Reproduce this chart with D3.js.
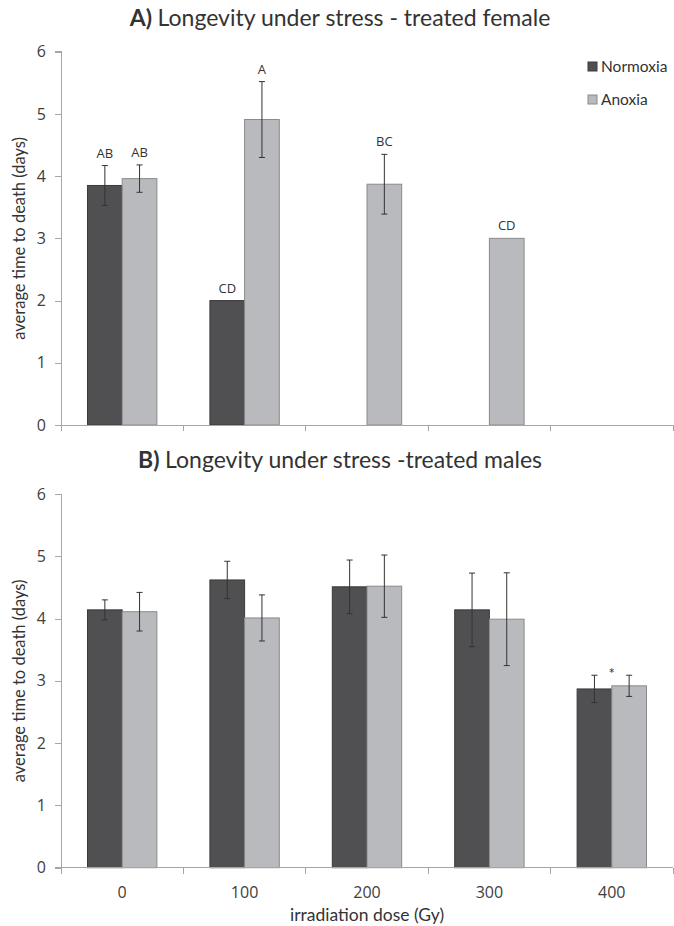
<!DOCTYPE html>
<meta charset="utf-8">
<head>
  <title>Longevity under stress</title>
</head>

<style>
body {
  margin: 0;
  background: #fff;
  font-family: Lato, "Open Sans", sans-serif;
  color: #333;
}
.axis path, .axis line { stroke: #a6a6a6; shape-rendering: crispEdges; }
.axis text { fill: #404040; font-size: 16px; font-family: "Open Sans", sans-serif; }
.err { stroke: #333; stroke-width: 1; }
</style>

<body>
  <div id="content">
    <svg width="674" height="926"></svg>
  </div>

  <script src="https://cdnjs.cloudflare.com/ajax/libs/d3/7.8.5/d3.min.js"></script>

  <script>
  // data
  var doses = ["0", "100", "200", "300", "400"];
  var series = ["Normoxia", "Anoxia"];
  var colors = { Normoxia: "#505052", Anoxia: "#b9babd" };
  var strokes = { Normoxia: "#3a3a3a", Anoxia: "#8a8a8a" };
  var yTicks = [0, 1, 2, 3, 4, 5, 6];

  // A) treated females
  var femaleNormoxia    = [3.85, 2.00, null, null, null];
  var femaleNormoxiaErr = [0.32, 0,    null, null, null];
  var femaleAnoxia      = [3.96, 4.91, 3.87, 3.00, null];
  var femaleAnoxiaErr   = [0.22, 0.61, 0.48, 0,    null];
  var femaleNormoxiaLetters = ["AB", "CD", "", "", ""];
  var femaleAnoxiaLetters   = ["AB", "A", "BC", "CD", ""];

  // B) treated males
  var maleNormoxia    = [4.14, 4.62, 4.51, 4.14, 2.87];
  var maleNormoxiaErr = [0.16, 0.30, 0.43, 0.59, 0.22];
  var maleAnoxia      = [4.11, 4.01, 4.52, 3.99, 2.92];
  var maleAnoxiaErr   = [0.31, 0.37, 0.50, 0.745, 0.17];
  var maleStars = ["", "", "", "", "*"];

  var svg = d3.select("svg");
  var left = 61, right = 673;

  var x0 = d3.scaleBand().domain(doses).range([left, right]).padding(0);
  var x1 = d3.scaleBand().domain(series).range([0, x0.bandwidth()])
    .paddingInner(0).paddingOuter(0.764);

  function panel(top, bottom, title, letter, sets, showXLabels) {
    var y = d3.scaleLinear().domain([0, 6]).range([bottom, top]);
    var g = svg.append("g");

    // title
    var t = g.append("text")
      .attr("x", 340).attr("y", top - 26)
      .attr("text-anchor", "middle")
      .style("font-size", "23px").style("fill", "#333");
    t.append("tspan").style("font-weight", "bold").text(letter + " ");
    t.append("tspan").text(title);

    // bars
    sets.forEach(function(s) {
      doses.forEach(function(d, i) {
        var v = s.values[i];
        if (v == null) return;
        var bx = x0(d) + x1(s.name);
        g.append("rect")
          .attr("x", bx).attr("y", y(v))
          .attr("width", x1.bandwidth()).attr("height", y(0) - y(v))
          .attr("fill", colors[s.name])
          .attr("stroke", strokes[s.name]).attr("stroke-width", 1);
      });
    });

    // error bars and labels
    sets.forEach(function(s) {
      doses.forEach(function(d, i) {
        var v = s.values[i];
        if (v == null) return;
        var e = s.err[i] || 0;
        var cx = x0(d) + x1(s.name) + x1.bandwidth() / 2;
        if (e > 0) {
          g.append("line").attr("class", "err")
            .attr("x1", cx).attr("x2", cx).attr("y1", y(v + e)).attr("y2", y(v - e));
          [v + e, v - e].forEach(function(w) {
            g.append("line").attr("class", "err")
              .attr("x1", cx - 3).attr("x2", cx + 3).attr("y1", y(w)).attr("y2", y(w));
          });
        }
        if (s.letters && s.letters[i]) {
          g.append("text")
            .attr("x", cx).attr("y", y(v + e) - 8)
            .attr("text-anchor", "middle")
            .style("font-size", "13px").style("fill", "#333")
            .style("font-family", "'Open Sans', sans-serif")
            .text(s.letters[i]);
        }
      });
    });

    // y axis
    var ya = g.append("g").attr("class", "axis")
      .attr("transform", "translate(" + left + ",0)")
      .call(d3.axisLeft(y).tickValues(yTicks).tickSize(6).tickPadding(9).tickFormat(d3.format("d")));
    ya.select(".domain").attr("d", "M-6," + y(6) + "H0V" + y(0) + "H-6");

    // x axis: ticks at category boundaries
    var xa = g.append("g").attr("class", "axis");
    xa.append("line").attr("x1", left).attr("x2", right).attr("y1", y(0)).attr("y2", y(0));
    doses.concat(["end"]).forEach(function(d, i) {
      var bx = i < doses.length ? x0(d) : right;
      xa.append("line").attr("x1", bx).attr("x2", bx).attr("y1", y(0)).attr("y2", y(0) + 6);
    });
    if (showXLabels) {
      doses.forEach(function(d) {
        xa.append("text")
          .attr("x", x0(d) + x0.bandwidth() / 2).attr("y", y(0) + 30)
          .attr("text-anchor", "middle").text(d);
      });
    }

    // y axis title
    g.append("text")
      .attr("transform", "translate(25," + (top + bottom) / 2 + ") rotate(-90)")
      .attr("text-anchor", "middle")
      .style("font-size", "16.5px").style("fill", "#333")
      .text("average time to death (days)");
    return { g: g, y: y };
  }

  panel(51.7, 425, "Longevity under stress - treated female", "A)", [
    { name: "Normoxia", values: femaleNormoxia, err: femaleNormoxiaErr, letters: femaleNormoxiaLetters },
    { name: "Anoxia", values: femaleAnoxia, err: femaleAnoxiaErr, letters: femaleAnoxiaLetters }
  ], false);

  var pb = panel(494, 867.7, "Longevity under stress -treated males", "B)", [
    { name: "Normoxia", values: maleNormoxia, err: maleNormoxiaErr },
    { name: "Anoxia", values: maleAnoxia, err: maleAnoxiaErr }
  ], true);

  // significance star above the 400 Gy pair
  doses.forEach(function(d, i) {
    if (!maleStars[i]) return;
    var topVal = Math.max(maleNormoxia[i] + maleNormoxiaErr[i], maleAnoxia[i] + maleAnoxiaErr[i]);
    pb.g.append("text")
      .attr("x", x0(d) + x0.bandwidth() / 2).attr("y", pb.y(topVal) + 4)
      .attr("text-anchor", "middle")
      .style("font-size", "15px").style("fill", "#333")
      .text(maleStars[i]);
  });

  // x axis title
  svg.append("text")
    .attr("x", (left + right) / 2).attr("y", 921)
    .attr("text-anchor", "middle")
    .style("font-size", "17.5px").style("fill", "#333")
    .text("irradiation dose (Gy)");

  // legend
  var lg = svg.append("g").attr("transform", "translate(588,62)");
  series.forEach(function(s, i) {
    var row = lg.append("g").attr("transform", "translate(0," + i * 33 + ")");
    row.append("rect").attr("width", 9).attr("height", 9)
      .attr("fill", colors[s]).attr("stroke", strokes[s]);
    row.append("text").attr("x", 13).attr("y", 9.5)
      .style("font-size", "15.5px").style("fill", "#333").text(s);
  });
  </script>
</body>
</html>
